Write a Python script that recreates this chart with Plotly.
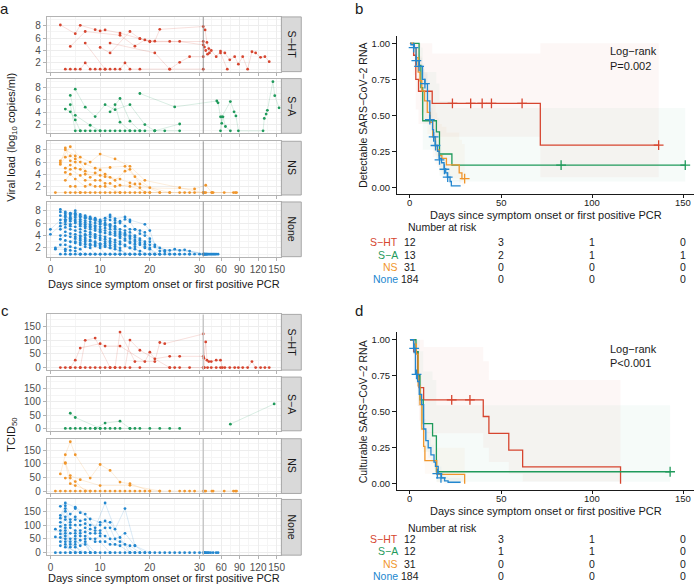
import plotly.graph_objects as go

W, H = 700, 587
FONT = "Liberation Sans, Arial, sans-serif"

# ---------------- data ----------------
groups = ["S−HT", "S−A", "NS", "None"]
group_colors = ["#D6452F", "#1F9A5B", "#F0962C", "#2387CF"]
group_fill = ["rgba(214,69,47,0.045)", "rgba(31,154,91,0.04)", "rgba(240,150,44,0.045)", "rgba(35,135,207,0.045)"]

x_tick_days = [0, 10, 20, 30, 60, 90, 120, 150]
x_tick_text = ["0", "10", "20", "30", "60", "90", "120", "150"]
vl_ticks = [2, 4, 6, 8]
tc_ticks = [0, 50, 100, 150]
break_day = 31

# Panel a: viral load trajectories (day, log10 copies/ml)
sht_vl = [
    [(2, 8.1), (5, 6.7), (6, 8.05), (9, 7.35), (10, 7.15), (11, 7.3), (14, 6.8), (18, 5.9), (20, 5.4), (31, 5.45)],
    [(4, 4.65), (7, 7.05), (14, 6.45), (17, 4.7), (19, 5.7), (21, 5.5), (22, 7.4), (31, 7.85), (34, 7.3), (37, 5.3),
     (40, 4.3), (41, 3.6), (44, 4.0), (52, 3.0), (59, 3.9), (66, 3.6), (74, 2.5), (82, 3.0), (88, 1.8), (95, 3.0),
     (103, 1.0), (110, 3.8), (116, 3.6), (124, 2.9), (131, 3.0), (138, 2.2)],
    [(7, 5.2), (11, 1.0)],
    [(10, 4.5), (12, 3.6), (16, 7.05), (18, 5.9), (20, 5.5), (24, 5.45), (26, 5.45), (31, 4.9), (33, 4.55), (35, 4.0), (38, 3.4)],
    [(12, 5.2), (21, 3.6), (24, 1.0)],
    [(3, 1), (4, 1), (5, 1), (6, 1), (7, 2.0), (8, 1), (9, 1), (10, 1), (11, 1), (12, 1), (13, 1), (14, 1),
     (15, 2.0), (16, 1), (18, 1), (31, 1)],
    [(24, 1), (26, 2.1), (28, 3.0), (31, 3.0)],
    [(59, 3.6), (70, 1.0)],
]
sa_vl = [
    [(3, 4.5), (4, 4.05), (5, 2.75), (6, 1.0)],
    [(4, 6.7), (5, 3.5), (8, 1.9), (10, 1.0)],
    [(4, 5.2), (5, 1.0), (6, 1.0), (7, 1.0), (8, 1.0), (9, 1.0), (10, 1.0), (11, 1.0), (12, 1.0), (13, 1.0),
     (14, 1.0), (15, 1.0), (16, 1.0), (17, 1.0), (18, 1.0), (19, 1.0), (21, 1.0), (23, 1.0), (26, 1.0)],
    [(5, 7.7), (7, 4.8), (9, 3.3), (11, 5.2), (13, 4.4), (16, 5.2), (19, 2.0), (21, 1.0)],
    [(12, 4.05), (14, 6.2), (16, 2.55), (18, 1.0)],
    [(13, 5.2), (14, 2.4), (16, 1.0)],
    [(18, 7.0), (25, 4.85), (53, 5.8), (55, 5.5), (59, 3.25), (61, 2.2), (63, 3.25), (67, 1.7), (75, 1.0)],
    [(21, 1.0), (26, 2.1)],
    [(59, 1.0), (61, 3.25), (75, 5.7), (81, 4.05), (84, 3.4), (88, 1.0), (128, 1.0), (130, 3.0), (133, 3.7),
     (135, 4.3), (144, 8.9), (147, 6.65), (154, 4.7)],
]
ns_vl = [
    [(2, 6.2), (4, 8.5), (6, 6.8), (8, 6.0), (10, 7.3), (13, 6.5), (16, 5.3), (19, 3.0), (26, 1.8), (31, 1.0)],
    [(2, 5.9), (3, 8.0), (5, 7.0), (7, 5.7), (9, 5.0), (12, 5.1), (15, 5.3), (17, 3.6), (20, 1.8), (24, 1.0)],
    [(2, 5.6), (3, 6.8), (4, 7.0), (5, 6.5), (6, 6.0), (8, 3.5), (10, 4.7), (11, 4.0), (13, 3.0), (15, 4.5),
     (16, 4.8), (18, 2.4), (22, 1.0)],
    [(3, 8.3), (4, 6.2), (5, 6.0), (7, 4.5), (9, 4.2), (11, 3.6), (14, 3.2), (16, 2.6), (18, 1.8), (29, 1.6),
     (35, 2.2), (45, 1.0)],
    [(3, 5.0), (4, 5.5), (5, 5.0), (6, 4.8), (7, 4.0), (10, 3.8), (12, 3.5), (14, 2.2), (16, 2.0), (20, 1.0)],
    [(3, 4.3), (4, 4.8), (6, 3.8), (7, 3.0), (9, 3.0), (10, 3.0), (11, 2.5), (12, 2.5), (13, 2.0), (17, 2.4), (19, 1.0)],
    [(3, 3.0), (4, 4.0), (5, 3.2), (7, 2.0), (8, 2.3), (9, 2.0), (10, 2.0), (11, 2.0), (14, 1.0)],
    [(4, 2.0), (5, 2.0), (6, 1.0), (8, 1.0)],
    [(1, 1.0), (3, 1.0), (5, 1.0), (7, 1.0), (9, 1.0), (11, 1.0), (13, 1.0), (15, 1.0), (17, 1.0), (19, 1.0),
     (22, 1.0), (26, 1.0), (28, 1.0), (33, 1.0), (47, 1.0), (65, 1.0), (83, 1.0)],
    [(4, 1.0), (6, 1.0), (10, 1.0), (12, 1.0), (14, 1.0), (16, 1.0), (18, 1.0), (20, 1.0), (24, 1.0), (27, 1.0),
     (29, 1.0), (31, 1.0), (35, 1.0), (45, 1.0), (80, 1.0), (85, 1.0)],
]
none_vl = [
    [(2, 8.2), (3, 7.8), (4, 7.5), (5, 8.0), (6, 7.4), (7, 7.2), (8, 7.0), (9, 6.8), (10, 6.5), (12, 7.3), (13, 6.7),
     (15, 7.0), (16, 6.5), (19, 5.8), (20, 4.8), (21, 2.5), (23, 1.6), (25, 1.8), (28, 1.5), (31, 1.0)],
    [(2, 7.8), (3, 7.5), (4, 7.3), (5, 7.6), (6, 7.0), (7, 6.8), (8, 6.6), (9, 6.5), (10, 6.2), (11, 6.8), (12, 6.5),
     (13, 6.0), (14, 6.3), (15, 5.5), (16, 5.0), (17, 5.0), (18, 4.8), (19, 4.5), (20, 3.5), (22, 2.0), (24, 1.6),
     (26, 1.6), (33, 1.0)],
    [(2, 7.2), (3, 7.0), (4, 6.8), (5, 7.2), (6, 6.6), (7, 6.4), (8, 6.2), (9, 6.0), (10, 5.8), (11, 6.0), (12, 5.6),
     (13, 5.5), (14, 5.0), (15, 4.8), (16, 4.5), (17, 4.0), (18, 3.5), (19, 3.0), (20, 2.5), (22, 1.5), (27, 1.7),
     (35, 1.0)],
    [(2, 6.5), (3, 6.6), (4, 6.3), (5, 6.5), (6, 6.0), (7, 5.8), (8, 5.5), (9, 5.4), (10, 5.0), (11, 5.2), (12, 5.0),
     (13, 4.6), (14, 4.2), (15, 4.0), (16, 3.5), (17, 3.0), (18, 2.5), (19, 2.0), (21, 1.0)],
    [(2, 6.0), (3, 6.2), (4, 5.8), (5, 6.0), (6, 5.5), (7, 5.2), (8, 5.0), (9, 4.8), (10, 4.5), (11, 4.4), (12, 4.2),
     (13, 4.0), (14, 3.6), (15, 3.2), (16, 2.8), (17, 2.2), (18, 1.0)],
    [(2, 5.5), (3, 5.8), (4, 5.5), (5, 5.4), (6, 5.0), (7, 4.7), (8, 4.5), (9, 4.2), (10, 4.0), (11, 3.8), (12, 3.5),
     (13, 3.3), (14, 3.0), (15, 2.5), (16, 2.0), (17, 1.0)],
    [(2, 5.0), (3, 5.3), (4, 5.0), (5, 4.8), (6, 4.5), (7, 4.2), (8, 3.8), (9, 3.6), (10, 3.3), (11, 3.0), (12, 2.8),
     (13, 2.5), (14, 2.0), (15, 1.0)],
    [(2, 4.0), (3, 4.6), (4, 4.3), (5, 4.2), (6, 4.0), (7, 3.6), (8, 3.3), (9, 3.0), (10, 2.7), (11, 2.4), (12, 2.0),
     (13, 1.0)],
    [(2, 3.4), (3, 4.0), (4, 3.8), (5, 3.5), (6, 3.2), (7, 3.0), (8, 2.6), (9, 2.3), (10, 2.0), (11, 1.0)],
    [(2, 2.5), (3, 3.2), (4, 3.0), (5, 2.8), (6, 2.5), (7, 2.2), (8, 2.0), (9, 1.0)],
    [(0, 5.0), (3, 7.2), (4, 6.6), (5, 6.9), (6, 6.3), (7, 6.1), (8, 5.8), (9, 5.6), (10, 5.4), (11, 5.6), (12, 5.8),
     (13, 5.2), (14, 4.6), (15, 4.2), (16, 3.8), (17, 3.3), (18, 2.8), (19, 2.2), (20, 1.8), (22, 1.0)],
    [(0, 4.2), (3, 6.4), (4, 7.0), (5, 6.2), (6, 5.8), (7, 5.5), (8, 5.3), (9, 5.1), (10, 4.7), (11, 4.8), (12, 4.5),
     (13, 4.3), (14, 3.9), (15, 3.5), (16, 3.0), (17, 2.6), (19, 1.0)],
    [(1, 2.0), (3, 2.5), (4, 2.2), (5, 2.0), (6, 1.8), (7, 1.0)],
    [(1, 1.8), (3, 1.8), (4, 1.6), (5, 1.5), (6, 1.0)],
    [(2, 1.0), (3, 1.0), (4, 1.0), (5, 1.0), (6, 1.0), (7, 1.0), (8, 1.0), (9, 1.0), (10, 1.0), (11, 1.0), (12, 1.0),
     (13, 1.0), (14, 1.0), (15, 1.0), (16, 1.0), (17, 1.0), (18, 1.0), (19, 1.0), (20, 1.0), (21, 1.0), (22, 1.0),
     (23, 1.0), (24, 1.0), (25, 1.0), (26, 1.0), (27, 1.0), (28, 1.0), (29, 1.0), (30, 1.0), (32, 1.0), (34, 1.0),
     (36, 1.0), (38, 1.0), (40, 1.0), (44, 1.0), (48, 1.0), (52, 1.0), (55, 1.0)],
    [(4, 7.6), (5, 7.4), (6, 7.1), (7, 6.9), (8, 6.8), (9, 6.4), (10, 6.0), (11, 5.8), (12, 5.4), (13, 5.0), (14, 4.4),
     (15, 4.4), (16, 4.0), (17, 3.7), (18, 3.2), (19, 2.6), (20, 2.0), (21, 1.0)],
    [(5, 3.0), (6, 2.8), (7, 2.6), (8, 2.4), (9, 2.5), (10, 2.3), (11, 2.2), (12, 2.0), (13, 1.8), (14, 1.6), (16, 1.0)],
    [(6, 3.8), (7, 4.0), (8, 4.2), (9, 3.9), (10, 3.6), (11, 3.4), (12, 3.1), (13, 2.9), (14, 2.6), (15, 2.3),
     (16, 2.0), (17, 1.8), (18, 1.5), (20, 1.0)],
    [(7, 7.0), (8, 6.7), (9, 6.6), (10, 6.3), (11, 6.4), (12, 7.0), (13, 6.4), (14, 6.0), (15, 6.6), (16, 6.2),
     (17, 5.0), (18, 4.3), (19, 4.0), (20, 3.0), (21, 2.2), (23, 1.4), (25, 1.0)],
    [(3, 1.5), (5, 3.8), (6, 3.5), (7, 3.3), (8, 3.1), (9, 2.8), (10, 2.6), (11, 2.7), (12, 2.4), (13, 2.2), (14, 1.0)],
    [(4, 1.0), (6, 1.0), (8, 1.0), (10, 1.0), (12, 1.0), (14, 1.0), (16, 1.0), (18, 1.0), (20, 1.0), (22, 1.0),
     (24, 1.0), (26, 1.0), (28, 1.0), (31, 1.0), (33, 1.0), (37, 1.0), (42, 1.0), (46, 1.0), (50, 1.0)],
]

# Panel c: TCID50 trajectories (day, TCID50)
sht_tc = [
    [(4, 0), (5, 27), (6, 71), (10, 87), (11, 78), (14, 78), (19, 22), (20, 56), (21, 32), (24, 41), (26, 41),
     (31, 41), (32, 34), (35, 93), (37, 27), (40, 22), (44, 22), (52, 27), (59, 27), (62, 0)],
    [(6, 0), (7, 99), (9, 107), (12, 0)],
    [(13, 0), (14, 129), (17, 22), (21, 22), (22, 91), (23, 87), (31, 122), (33, 0)],
    [(15, 0), (16, 100), (18, 63), (24, 0)],
    [(2, 0), (3, 0), (4, 0), (5, 0), (6, 0), (7, 0), (8, 0), (9, 0), (10, 0), (11, 0), (12, 0), (13, 0), (14, 0),
     (16, 0), (18, 0), (24, 0), (25, 0), (26, 0), (28, 0), (31, 0)],
    [(31, 0), (38, 0), (44, 0), (52, 0), (59, 0), (66, 0), (74, 0), (82, 0), (88, 0), (95, 0), (103, 0), (110, 22),
     (116, 0), (124, 0), (131, 0), (138, 0)],
]
sa_tc = [
    [(4, 57), (5, 41), (10, 0)],
    [(9, 0), (11, 20), (14, 27), (16, 0)],
    [(3, 0), (4, 0), (5, 0), (6, 0), (7, 0), (8, 0), (9, 0), (10, 0), (11, 0), (12, 0), (13, 0), (14, 0), (16, 0),
     (17, 0), (18, 0), (20, 0), (22, 0), (24, 0), (26, 0)],
    [(75, 16), (146, 92)],
]
ns_tc = [
    [(2, 63), (3, 134), (4, 182), (5, 134), (8, 48), (10, 98), (12, 76), (14, 33), (16, 27), (20, 0)],
    [(3, 105), (4, 57), (6, 42), (10, 20), (16, 21), (22, 0)],
    [(3, 48), (4, 48), (5, 35), (7, 0)],
    [(3, 102), (4, 27), (5, 20), (8, 0)],
    [(1, 0), (2, 0), (3, 0), (4, 0), (5, 0), (6, 0), (7, 0), (8, 0), (9, 0), (10, 0), (11, 0), (12, 0), (13, 0),
     (14, 0), (15, 0), (16, 0), (17, 0), (18, 0), (19, 0), (20, 0), (22, 0), (24, 0), (26, 0), (27, 0), (28, 0),
     (29, 0), (31, 0), (33, 0), (35, 0), (45, 0), (47, 0), (65, 0), (80, 0), (83, 0), (85, 0)],
]
none_tc = [
    [(2, 168), (3, 180), (5, 165), (7, 140), (9, 90), (11, 180), (13, 85), (15, 160), (17, 25), (19, 0)],
    [(2, 135), (3, 170), (4, 140), (5, 160), (6, 145), (8, 122), (10, 110), (12, 110), (14, 55), (16, 0)],
    [(2, 125), (3, 160), (4, 120), (5, 130), (6, 115), (7, 120), (8, 100), (10, 100), (11, 115), (12, 90), (13, 50),
     (15, 70), (17, 25), (20, 0)],
    [(2, 110), (3, 150), (4, 110), (5, 120), (6, 100), (7, 105), (8, 85), (9, 80), (10, 80), (11, 90), (12, 50),
     (14, 40), (16, 25), (18, 0)],
    [(2, 95), (3, 130), (4, 100), (5, 100), (6, 80), (7, 90), (8, 70), (9, 70), (10, 70), (11, 60), (13, 30),
     (15, 30), (17, 0)],
    [(2, 80), (3, 120), (4, 90), (5, 80), (6, 70), (7, 75), (8, 50), (9, 50), (10, 60), (11, 40), (12, 30), (14, 25),
     (16, 0)],
    [(2, 68), (3, 100), (4, 70), (5, 70), (6, 60), (7, 60), (9, 40), (10, 40), (12, 0)],
    [(2, 55), (3, 90), (4, 50), (5, 60), (6, 45), (7, 50), (8, 0)],
    [(2, 40), (3, 80), (4, 40), (5, 50), (6, 25), (7, 40), (9, 0)],
    [(2, 25), (3, 70), (4, 30), (5, 40), (7, 30), (8, 0)],
    [(1, 85), (3, 60), (4, 20), (5, 30), (6, 0)],
    [(1, 57), (3, 50), (5, 20), (7, 0)],
    [(3, 40), (4, 0)],
    [(3, 30), (5, 0)],
    [(3, 20), (6, 0)],
    [(1, 0), (2, 0), (3, 0), (4, 0), (5, 0), (6, 0), (7, 0), (8, 0), (9, 0), (10, 0), (11, 0), (12, 0), (13, 0),
     (14, 0), (15, 0), (16, 0), (17, 0), (18, 0), (19, 0), (20, 0), (21, 0), (22, 0), (23, 0), (24, 0), (25, 0),
     (26, 0), (27, 0), (28, 0), (29, 0), (30, 0), (31, 0), (32, 0), (33, 0), (34, 0), (36, 0), (38, 0), (40, 0),
     (43, 0), (47, 0), (52, 0), (55, 0)],
]

# Panel b: Kaplan-Meier, detectable RNA
b_sht_t = [0, 2, 3.2, 4.7, 12.2, 71.5, 136.4]
b_sht_s = [1, 0.917, 0.75, 0.667, 0.583, 0.292, 0.292]
b_sht_lo = [1, 0.78, 0.54, 0.44, 0.35, 0.07, 0.07]
b_sht_hi = [1, 1, 1, 1, 0.93, 1, 1]
b_sht_ct = [23.3, 33.3, 39.6, 44.7, 61.5, 136.4]
b_sht_cs = [0.583, 0.583, 0.583, 0.583, 0.583, 0.292]

b_sa_t = [0, 5, 6, 7, 14.5, 16.2, 23, 151]
b_sa_s = [1, 0.846, 0.692, 0.462, 0.385, 0.231, 0.154, 0.154]
b_sa_lo = [1, 0.68, 0.5, 0.26, 0.2, 0.08, 0.04, 0.04]
b_sa_hi = [1, 1, 0.97, 0.8, 0.72, 0.6, 0.55, 0.55]
b_sa_ct = [82.9, 151]
b_sa_cs = [0.154, 0.154]

b_ns_t = [0, 2, 3.5, 4.5, 5.5, 6.5, 8, 9.5, 11, 12.5, 14, 15, 16, 17.5, 20, 27, 28.5, 30]
b_ns_s = [1, 0.97, 0.9, 0.8, 0.74, 0.67, 0.6, 0.52, 0.45, 0.35, 0.29, 0.26, 0.22, 0.2, 0.155, 0.1, 0.06, 0.06]
b_ns_lo = [1, 0.91, 0.8, 0.67, 0.6, 0.52, 0.45, 0.37, 0.3, 0.21, 0.16, 0.14, 0.11, 0.09, 0.06, 0.03, 0.01, 0.01]
b_ns_hi = [1, 1, 1, 0.95, 0.91, 0.86, 0.8, 0.73, 0.67, 0.58, 0.52, 0.48, 0.44, 0.42, 0.38, 0.33, 0.3, 0.3]
b_ns_ct = [30]
b_ns_cs = [0.06]

b_none_t = [0, 0.5, 2.4, 3.3, 5.1, 6.9, 8.2, 9.6, 10.9, 12.4, 12.9, 13.8, 15.1, 16, 17.3, 18.7, 19.6, 20.5, 22,
            22.7, 27.8]
b_none_s = [1, 0.99, 0.97, 0.88, 0.84, 0.75, 0.72, 0.6, 0.47, 0.4, 0.35, 0.29, 0.25, 0.2, 0.17, 0.13, 0.1, 0.07,
            0.04, 0.01, 0.01]
b_none_lo = [1, 0.97, 0.94, 0.83, 0.78, 0.68, 0.65, 0.52, 0.39, 0.32, 0.28, 0.22, 0.18, 0.14, 0.11, 0.08, 0.05,
             0.03, 0.01, 0.0, 0.0]
b_none_hi = [1, 1, 0.99, 0.93, 0.9, 0.82, 0.79, 0.68, 0.55, 0.48, 0.43, 0.37, 0.33, 0.28, 0.24, 0.19, 0.16, 0.12,
             0.09, 0.05, 0.05]
b_none_ct = [2, 3.5, 5, 8.2, 10.9, 13, 14, 16.2, 18.9, 20.7]
b_none_cs = [0.97, 0.88, 0.84, 0.72, 0.47, 0.35, 0.29, 0.19, 0.125, 0.07]

b_risk = [[12, 3, 1, 0], [13, 2, 1, 1], [31, 0, 0, 0], [184, 0, 0, 0]]
b_logrank = ["Log−rank", "P=0.002"]

# Panel d: Kaplan-Meier, culturable virus
d_sht_t = [0, 2, 4.2, 5, 7.5, 40.2, 43.3, 54.2, 61.8, 115.5]
d_sht_s = [1, 0.917, 0.75, 0.667, 0.583, 0.467, 0.35, 0.233, 0.117, 0]
d_sht_lo = [1, 0.78, 0.54, 0.44, 0.35, 0.25, 0.15, 0.07, 0.015, 0]
d_sht_hi = [1, 1, 1, 1, 0.95, 0.85, 0.72, 0.72, 0.72, 0]
d_sht_ct = [22.9, 32.9]
d_sht_cs = [0.583, 0.583]

d_sa_t = [0, 3.3, 4.5, 5.5, 7.3, 12.4, 14.5, 142.7]
d_sa_s = [1, 0.917, 0.75, 0.583, 0.417, 0.333, 0.083, 0.083]
d_sa_lo = [1, 0.78, 0.54, 0.37, 0.22, 0.15, 0.014, 0.014]
d_sa_hi = [1, 1, 1, 0.92, 0.78, 0.72, 0.545, 0.545]
d_sa_ct = [142.7]
d_sa_cs = [0.083]

d_ns_t = [0, 2, 3.5, 4.5, 5.5, 6.5, 7.5, 8.2, 14.7, 30]
d_ns_s = [1, 0.97, 0.9, 0.68, 0.55, 0.38, 0.26, 0.16, 0.065, 0]
d_ns_lo = [1, 0.91, 0.8, 0.54, 0.4, 0.24, 0.14, 0.07, 0.01, 0]
d_ns_hi = [1, 1, 1, 0.86, 0.75, 0.6, 0.48, 0.36, 0.25, 0]
d_ns_ct = []
d_ns_cs = []

d_none_t = [0, 2, 3, 4.2, 5.1, 6.4, 7.5, 8.7, 10, 11.5, 13.2, 14, 15.5, 17.3, 19, 20.9, 27.8]
d_none_s = [1, 0.94, 0.76, 0.71, 0.62, 0.55, 0.38, 0.3, 0.25, 0.2, 0.15, 0.12, 0.07, 0.04, 0.02, 0.01, 0.01]
d_none_lo = [1, 0.9, 0.7, 0.64, 0.55, 0.47, 0.31, 0.23, 0.18, 0.14, 0.1, 0.07, 0.03, 0.01, 0.0, 0.0, 0.0]
d_none_hi = [1, 0.98, 0.82, 0.77, 0.69, 0.62, 0.45, 0.37, 0.32, 0.27, 0.21, 0.17, 0.12, 0.08, 0.05, 0.04, 0.04]
d_none_ct = [2.3, 3.6, 15, 17]
d_none_cs = [0.94, 0.76, 0.07, 0.04]

d_risk = [[12, 3, 1, 0], [12, 1, 1, 0], [31, 0, 0, 0], [184, 0, 0, 0]]
d_logrank = ["Log−rank", "P<0.001"]

km_ticks = [0, 50, 100, 150]
surv_ticks = [0, 0.25, 0.5, 0.75, 1.0]
surv_tick_text = ["0.00", "0.25", "0.50", "0.75", "1.00"]


# ---------------- helpers ----------------
def tx(d):
    """broken x scale: linear up to day 30, compressed afterwards"""
    return d if d <= 30 else 30.62 + (d - 30) * 0.124


def px_x(p0, p1):
    return [p0 / W, p1 / W]


def px_y(top, bottom):
    return [1 - bottom / H, 1 - top / H]


def rgba(hexc, a):
    h = hexc.lstrip("#")
    return "rgba(%d,%d,%d,%s)" % (int(h[0:2], 16), int(h[2:4], 16), int(h[4:6], 16), a)


def axn(i):
    return "" if i == 1 else str(i)


fig = go.Figure()
layout = dict(
    width=W, height=H, margin=dict(l=0, r=0, t=0, b=0),
    paper_bgcolor="white", plot_bgcolor="white", showlegend=False,
    font=dict(family=FONT, size=10, color="#1A1A1A"),
)
annotations = []
shapes = []

FX0, FX1 = 47, 283
facet_a = [(17, 72), (79, 134), (142, 196), (203, 258)]
facet_c = [(316, 372), (379, 433), (441, 496), (502, 558)]
x_range = [-0.74, 46.46]
minor_x = [tx(v) for v in [5, 15, 25, 45, 75, 105, 135]]

panels = [
    ("a", [sht_vl, sa_vl, ns_vl, none_vl], facet_a, [0.6, 9.4], vl_ticks, [1, 3, 5, 7, 9], 1, "#8A8A8A", 0.9, 27),
    ("c", [sht_tc, sa_tc, ns_tc, none_tc], facet_c, [-9, 193], tc_ticks, [25, 75, 125, 175], 5, "#C4C4C4", 1.4, 23),
]

for name, datasets, facets, yr, yt, ymin, start, vcol, vw, title_off in panels:
    for gi, (trajs, (top, bot)) in enumerate(zip(datasets, facets)):
        ax = start + gi
        xa = "x" + axn(ax)
        ya = "y" + axn(ax)
        col = group_colors[gi]
        lx, ly, mx, my = [], [], [], []
        for tr in trajs:
            for d, v in tr:
                lx.append(tx(d)); ly.append(v)
                mx.append(tx(d)); my.append(v)
            lx.append(None); ly.append(None)
        fig.add_trace(go.Scatter(x=lx, y=ly, mode="lines", xaxis=xa, yaxis=ya,
                                 line=dict(color=rgba(col, 0.28), width=0.6), hoverinfo="skip"))
        fig.add_trace(go.Scatter(x=mx, y=my, mode="markers", xaxis=xa, yaxis=ya,
                                 marker=dict(color=col, size=2.8, line=dict(width=0)), hoverinfo="skip"))
        last = gi == 3
        layout["xaxis" + axn(ax)] = dict(
            domain=px_x(FX0, FX1), anchor=ya, range=x_range, tickvals=[tx(d) for d in x_tick_days],
            ticktext=x_tick_text, showticklabels=last, tickangle=0, ticks="outside", ticklen=3,
            tickcolor="#B3B3B3", tickfont=dict(size=10, color="#4D4D4D"), showgrid=True, gridcolor="#EDEDED",
            gridwidth=0.6, minor=dict(tickvals=minor_x, showgrid=True, gridcolor="#F5F5F5", gridwidth=0.4, ticks=""),
            showline=True, mirror=True, linecolor="#B3B3B3", linewidth=1, zeroline=False, fixedrange=True)
        layout["yaxis" + axn(ax)] = dict(
            domain=px_y(top, bot), anchor=xa, range=yr, tickvals=yt, ticks="outside", ticklen=3,
            tickcolor="#B3B3B3", tickfont=dict(size=10, color="#4D4D4D"), showgrid=True, gridcolor="#EDEDED",
            gridwidth=0.6, minor=dict(tickvals=ymin, showgrid=True, gridcolor="#F5F5F5", gridwidth=0.4, ticks=""),
            showline=True, mirror=True, linecolor="#B3B3B3", linewidth=1, zeroline=False, fixedrange=True)
        shapes.append(dict(type="line", xref=xa, yref=ya + " domain", x0=tx(break_day), x1=tx(break_day),
                           y0=0, y1=1, line=dict(color=vcol, width=vw)))
        shapes.append(dict(type="rect", xref="paper", yref="paper", x0=283 / W, x1=303 / W,
                           y0=1 - bot / H, y1=1 - top / H, fillcolor="#D9D9D9",
                           line=dict(color="#A8A8A8", width=1)))
        annotations.append(dict(x=293.5 / W, y=1 - (top + bot) / 2 / H, xref="paper", yref="paper",
                                text=groups[gi], textangle=90, showarrow=False,
                                font=dict(size=10.5, color="#1A1A1A"), xanchor="center", yanchor="middle"))
    bottom = facets[-1][1]
    annotations.append(dict(x=(FX0 + FX1) / 2 / W, y=1 - (bottom + title_off) / H, xref="paper", yref="paper",
                            text="Days since symptom onset or first positive PCR", showarrow=False,
                            font=dict(size=11, color="#1A1A1A"), xanchor="center", yanchor="middle"))

annotations.append(dict(x=12 / W, y=1 - 137.5 / H, xref="paper", yref="paper",
                        text="Viral load (log<sub>10</sub> copies/ml)", textangle=-90, showarrow=False,
                        font=dict(size=11, color="#1A1A1A"), xanchor="center", yanchor="middle"))
annotations.append(dict(x=12 / W, y=1 - 437 / H, xref="paper", yref="paper",
                        text="TCID<sub>50</sub>", textangle=-90, showarrow=False,
                        font=dict(size=11, color="#1A1A1A"), xanchor="center", yanchor="middle"))

# ---------------- KM panels ----------------
km_panels = [
    (9, (36, 195), [
        (b_sht_t, b_sht_s, b_sht_lo, b_sht_hi, b_sht_ct, b_sht_cs),
        (b_sa_t, b_sa_s, b_sa_lo, b_sa_hi, b_sa_ct, b_sa_cs),
        (b_ns_t, b_ns_s, b_ns_lo, b_ns_hi, b_ns_ct, b_ns_cs),
        (b_none_t, b_none_s, b_none_lo, b_none_hi, b_none_ct, b_none_cs)],
     "Detectable SARS−CoV−2 RNA", b_risk, b_logrank, [228.3, 243.3, 256, 268.3, 280.7], (51.7, 66.7)),
    (10, (334, 493), [
        (d_sht_t, d_sht_s, d_sht_lo, d_sht_hi, d_sht_ct, d_sht_cs),
        (d_sa_t, d_sa_s, d_sa_lo, d_sa_hi, d_sa_ct, d_sa_cs),
        (d_ns_t, d_ns_s, d_ns_lo, d_ns_hi, d_ns_ct, d_ns_cs),
        (d_none_t, d_none_s, d_none_lo, d_none_hi, d_none_ct, d_none_cs)],
     "Culturable SARS−CoV−2 RNA", d_risk, d_logrank, [530.7, 541.7, 554, 566.5, 579.3], (350.7, 365)),
]

KX0, KX1 = 399.3, 698
for ax, (top, bot), curves, ytitle, risk, lr, risk_y, lr_y in km_panels:
    xa, ya = "x" + axn(ax), "y" + axn(ax)
    for gi, (t, s, lo, hi, ct, cs) in enumerate(curves):
        fig.add_trace(go.Scatter(x=t, y=hi, mode="lines", xaxis=xa, yaxis=ya,
                                 line=dict(width=0, shape="hv"), hoverinfo="skip"))
        fig.add_trace(go.Scatter(x=t, y=lo, mode="lines", xaxis=xa, yaxis=ya, fill="tonexty",
                                 fillcolor=group_fill[gi], line=dict(width=0, shape="hv"), hoverinfo="skip"))
    for gi, (t, s, lo, hi, ct, cs) in enumerate(curves):
        col = group_colors[gi]
        fig.add_trace(go.Scatter(x=t, y=s, mode="lines", xaxis=xa, yaxis=ya,
                                 line=dict(color=col, width=1.3, shape="hv"), hoverinfo="skip"))
        if ct:
            fig.add_trace(go.Scatter(x=ct, y=cs, mode="markers", xaxis=xa, yaxis=ya,
                                     marker=dict(symbol="cross-thin", size=7, color=col,
                                                 line=dict(color=col, width=1.3)), hoverinfo="skip"))
    layout["xaxis" + axn(ax)] = dict(
        domain=px_x(KX0, KX1), anchor=ya, range=[-7.1, 155.8], tickvals=km_ticks, showticklabels=False,
        ticks="outside", ticklen=3, tickcolor="#1A1A1A", showgrid=False, showline=True,
        linecolor="#1A1A1A", linewidth=1, zeroline=False, fixedrange=True)
    layout["yaxis" + axn(ax)] = dict(
        domain=px_y(top, bot), anchor=xa, range=[-0.047, 1.052], tickvals=surv_ticks, ticktext=surv_tick_text,
        ticks="outside", ticklen=4, tickcolor="#1A1A1A", tickfont=dict(size=9.5, color="#1A1A1A"),
        showgrid=False, showline=True, linecolor="#1A1A1A", linewidth=1, zeroline=False, fixedrange=True)
    # x tick labels placed at the tick positions of the KM x axis
    for tv in km_ticks:
        annotations.append(dict(x=tv, y=1 - (bot + 8.5) / H, xref=xa, yref="paper", text=str(tv),
                                showarrow=False, font=dict(size=9.5, color="#1A1A1A"),
                                xanchor="center", yanchor="middle"))
    annotations.append(dict(x=365 / W, y=1 - (top + bot) / 2 / H, xref="paper", yref="paper", text=ytitle,
                            textangle=-90, showarrow=False, font=dict(size=10.5, color="#1A1A1A"),
                            xanchor="center", yanchor="middle"))
    annotations.append(dict(x=(KX0 + KX1) / 2 / W, y=1 - (bot + 21) / H, xref="paper", yref="paper",
                            text="Days since symptom onset or first positive PCR", showarrow=False,
                            font=dict(size=11, color="#1A1A1A"), xanchor="center", yanchor="middle"))
    for txt, yy in zip(lr, lr_y):
        annotations.append(dict(x=611.5 / W, y=1 - yy / H, xref="paper", yref="paper", text=txt,
                                showarrow=False, font=dict(size=11, color="#1A1A1A"),
                                xanchor="left", yanchor="middle"))
    annotations.append(dict(x=408 / W, y=1 - risk_y[0] / H, xref="paper", yref="paper", text="Number at risk",
                            showarrow=False, font=dict(size=10.5, color="#1A1A1A"),
                            xanchor="left", yanchor="middle"))
    for gi, row in enumerate(risk):
        yy = 1 - risk_y[gi + 1] / H
        annotations.append(dict(x=402.5 / W, y=yy, xref="paper", yref="paper", text=groups[gi],
                                showarrow=False, font=dict(size=10.5, color=group_colors[gi]),
                                xanchor="right", yanchor="middle"))
        for tv, n in zip(km_ticks, row):
            annotations.append(dict(x=tv, y=yy, xref=xa, yref="paper", text=str(n), showarrow=False,
                                    font=dict(size=10.5, color="#1A1A1A"), xanchor="center", yanchor="middle"))

for letter, (lx, ly) in zip(["a", "b", "c", "d"], [(5, 9), (361, 9), (5, 312), (361, 312)]):
    annotations.append(dict(x=lx / W, y=1 - ly / H, xref="paper", yref="paper", text=letter, showarrow=False,
                            font=dict(size=15, color="#1A1A1A"), xanchor="center", yanchor="middle"))

layout["annotations"] = annotations
layout["shapes"] = shapes
fig.update_layout(**layout)
fig.write_html("out.html", config={"displayModeBar": False},
               post_script="document.body.style.margin='0px';document.body.style.overflow='hidden';")
